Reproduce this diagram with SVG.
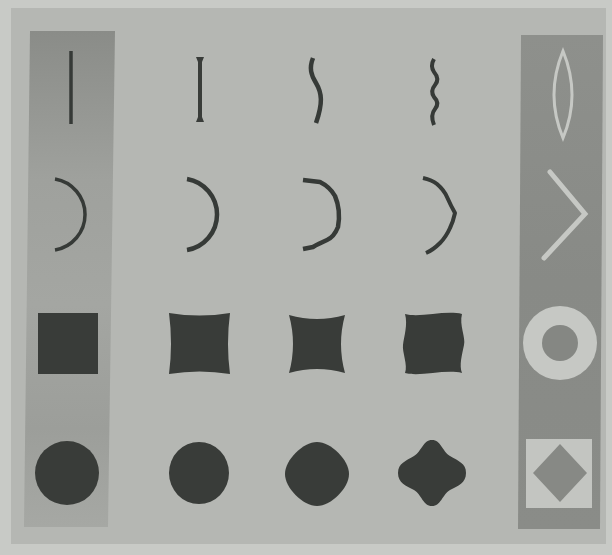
<svg xmlns="http://www.w3.org/2000/svg" width="612" height="555" viewBox="0 0 612 555">
<style>
.ln{fill:none;stroke:#363a37;stroke-linecap:butt;stroke-linejoin:round}
.dk{fill:#393c39}
.lt{fill:none;stroke:#c6c8c4;stroke-linecap:round;stroke-linejoin:miter}
</style>
<defs>
<linearGradient id="gL" x1="0" y1="0" x2="0" y2="1">
<stop offset="0" stop-color="#8a8c88"/>
<stop offset="0.3" stop-color="#9fa19d"/>
<stop offset="0.55" stop-color="#a4a6a2"/>
<stop offset="0.8" stop-color="#9c9e9a"/>
<stop offset="1" stop-color="#a6a8a4"/>
</linearGradient>
<linearGradient id="gR" x1="0" y1="0" x2="0" y2="1">
<stop offset="0" stop-color="#8e908c"/>
<stop offset="0.5" stop-color="#888a86"/>
<stop offset="1" stop-color="#8a8c88"/>
</linearGradient>
</defs>
<rect width="612" height="555" fill="#c8cac6"/>
<rect x="11" y="8" width="595" height="536" fill="#b5b7b3"/>
<g id="left-strip">
<polygon points="30,31 115,31 108,527 24,527" fill="url(#gL)"/>
<line class="ln" x1="71" y1="51" x2="71" y2="124" stroke-width="3.5"/>
<path class="ln" d="M55,179 A36,36 0 0 1 55,250" stroke-width="3.5"/>
<rect class="dk" x="38" y="313" width="60" height="61"/>
<ellipse class="dk" cx="67" cy="473" rx="32" ry="32"/>
</g>
<g id="col2">
<path class="dk" d="M196,57 L204,57 L202,62 L202,117 L204,122 L196,122 L198,117 L198,62 Z"/>
<path class="ln" d="M187,179 A36,36 0 0 1 187,250" stroke-width="4.5"/>
<path class="dk" d="M169,313 Q199.5,318 230,313 Q226,343.5 230,374 Q199.5,369 169,374 Q173,343.5 169,313 Z"/>
<ellipse class="dk" cx="199" cy="473" rx="30" ry="31"/>
</g>
<g id="col3">
<path class="ln" d="M313,58 C309,68 311,75 316,83 C322,93 323,103 316,123" stroke-width="4.5"/>
<path class="ln" d="M303,180 L320,182 Q330,187 335,196 Q341,210 338,227 Q334,237 327,240 Q318,244 313,247 L303,249" stroke-width="4.5"/>
<path class="dk" d="M289,315 Q317,323 345,315 Q337,344 345,373 Q317,365 289,373 Q297,344 289,315 Z"/>
<path class="dk" d="M317,442 C331,442 349,460 349,474 C349,488 331,506 317,506 C303,506 285,488 285,474 C285,460 303,442 317,442 Z"/>
</g>
<g id="col4">
<path class="ln" d="M434,59 Q430,66 434,72 Q440,79 435,85 Q430,91 434,97 Q440,103 435,109 Q430,115 434,125" stroke-width="4"/>
<path class="ln" d="M423,178 Q432,180 437,184 Q444,190 447,197 Q451,206 455,213 Q453,222 450,228 Q446,237 440,243 Q433,250 426,253" stroke-width="4"/>
<path class="dk" d="M405,314 C420,318 445,310 462,314 C459,325 466,338 464,345 C462,355 459,365 462,373 C445,369 420,377 405,373 C408,365 402,352 403,345 C404,336 408,325 405,314 Z"/>
<path class="dk" d="M432,440 C441,440 442,451 450,456 C458,461 466,463 466,473 C466,483 458,486 450,490 C442,495 441,506 432,506 C423,506 422,495 414,490 C406,486 398,483 398,473 C398,463 406,461 414,456 C422,451 423,440 432,440 Z"/>
</g>
<g id="right-strip">
<polygon points="521,35 603,35 600,529 518,529" fill="url(#gR)"/>
<path class="lt" d="M563,51 Q581,95 563,138 Q545,95 563,51 Z" stroke-width="3"/>
<polyline class="lt" points="550,172 585,214 544,258" stroke-width="5"/>
<circle cx="560" cy="343" r="37" fill="#c6c8c4"/>
<circle cx="560" cy="343" r="18" fill="#858783"/>
<rect x="526" y="439" width="66" height="69" fill="#c3c5c1"/>
<polygon points="560,444 587,473 560,502 533,473" fill="#878985"/>
</g>
</svg>
